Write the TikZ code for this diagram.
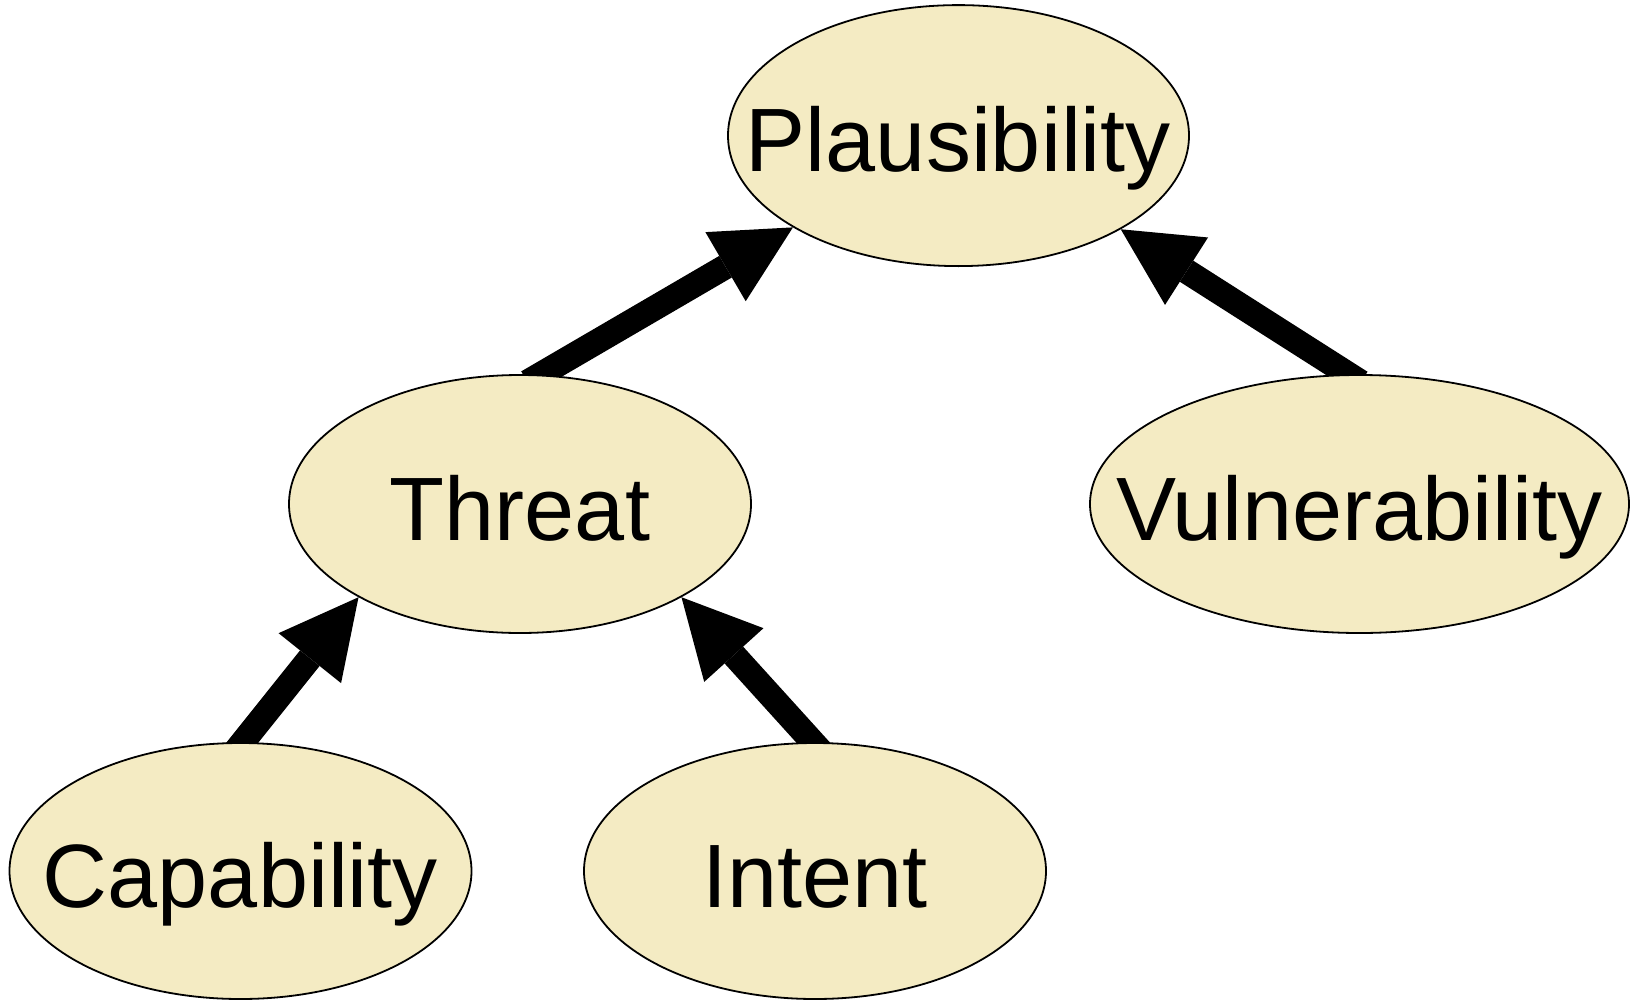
\documentclass[tikz,border=0pt]{standalone}
\usepackage{fontspec}
\setmainfont{Liberation Sans}
\usetikzlibrary{shapes.geometric,arrows.meta,calc}
\pgfdeclarelayer{bg}
\pgfsetlayers{bg,main}
\definecolor{nodefill}{RGB}{244,235,195}
\begin{document}
\begin{tikzpicture}[x=1pt,y=-1pt,
  elli/.style={ellipse, draw=black, line width=1.8pt, fill=nodefill, inner sep=0pt, minimum width=462pt, minimum height=258pt},
  txt/.style={font=\fontsize{90}{100}\selectfont, text height=72pt, text depth=0pt, inner sep=0pt},
  arr/.style={line width=25pt, -{Triangle[length=78pt,width=80pt,line width=0pt]}}]
\useasboundingbox (0,0) rectangle (1636,1001);
\node[elli, minimum width=461pt, minimum height=261pt, label={[txt]center:Plausibility}] (pla) at (958.5,135.6) {};
\node[elli, label={[txt]center:Threat}] (thr) at (520,504) {};
\node[elli, minimum width=539pt, label={[txt]center:Vulnerability}] (vul) at (1359.5,504) {};
\node[elli, minimum height=256pt, label={[txt]center:Capability}] (cap) at (240.5,871) {};
\node[elli, minimum height=256pt, label={[txt]center:Intent}] (int) at (815,871) {};
\begin{pgfonlayer}{bg}
\draw[arr] ($(thr.81)!-15pt!(pla.209.5)$) -- (pla.209.5);
\draw[arr] ($(vul.95)!-15pt!(pla.330.3)$) -- (pla.330.3);
\draw[arr] ($(cap.89)!-15pt!(thr.210)$) -- (thr.210);
\draw[arr] ($(int.91)!-15pt!(thr.330)$) -- (thr.330);
\end{pgfonlayer}
\end{tikzpicture}
\end{document}
